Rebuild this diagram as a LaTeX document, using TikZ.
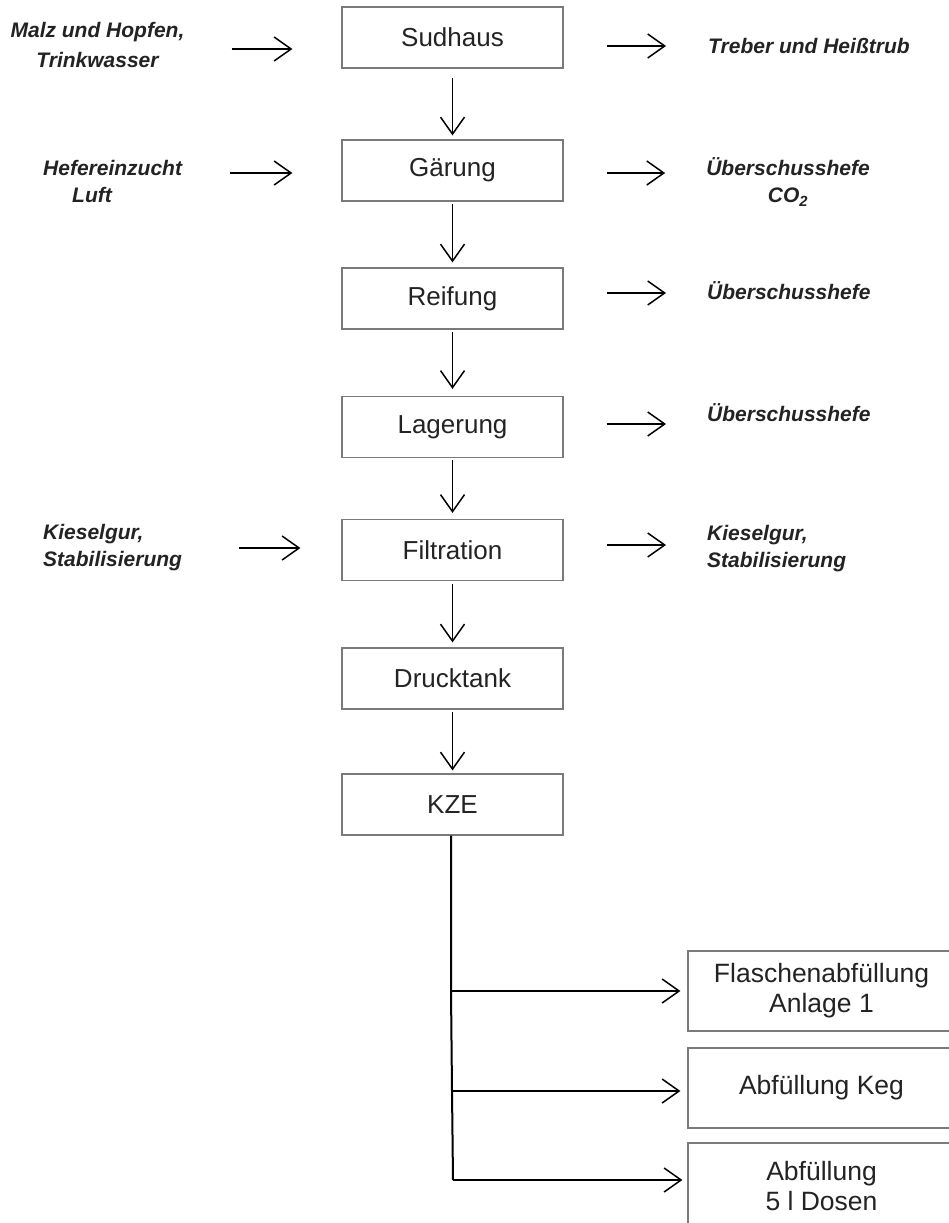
\documentclass[tikz,border=0pt]{standalone}
\usepackage{fontspec}
\setmainfont{Liberation Sans}
\usetikzlibrary{arrows.meta}
\definecolor{txt}{HTML}{232323}
\definecolor{boxline}{HTML}{7A7A7A}
\tikzset{
  procbox/.style={draw=boxline, line width=1.2pt, minimum width=221pt, minimum height=61pt, inner sep=0pt,
    text=txt, font=\fontsize{26}{30}\selectfont},
  fillbox/.style={draw=boxline, line width=1.2pt, minimum width=267pt, inner sep=0pt, align=center,
    text=txt, font=\fontsize{26.5}{30}\selectfont},
  lbl/.style={inner sep=0pt, text=txt, font=\fontsize{21}{27}\selectfont\bfseries\itshape},
  arr/.style={line width=1.5pt, -{Straight Barb[length=17pt,width=24pt,line width=1.5pt]}},
  branch/.style={line width=2pt}
}
\begin{document}
\begin{tikzpicture}[x=1pt,y=-1pt]
\useasboundingbox (0,0) rectangle (949,1223);
\fill[white] (0,0) rectangle (949,1223);
\clip (0,0) rectangle (949,1223);

% main column
\node[procbox] (sud) at (452.5,37.5) {Sudhaus};
\node[procbox] (gar) at (452.5,170.5) {Gärung};
\node[procbox] (rei) at (452.5,298.5) {Reifung};
\node[procbox] (lag) at (452.5,427) {Lagerung};
\node[procbox] (fil) at (452.5,550) {Filtration};
\node[procbox] (dru) at (452.5,678.5) {Drucktank};
\node[procbox] (kze) at (452.5,804.5) {KZE};

\draw[arr, shorten <=9pt, shorten >=4pt] (sud.south) -- (gar.north);
\draw[arr, shorten <=2pt, shorten >=5pt] (gar.south) -- (rei.north);
\draw[arr, shorten <=2pt, shorten >=7pt] (rei.south) -- (lag.north);
\draw[arr, shorten <=2pt, shorten >=6pt] (lag.south) -- (fil.north);
\draw[arr, shorten <=3pt, shorten >=5pt] (fil.south) -- (dru.north);
\draw[arr, shorten <=2pt, shorten >=3pt] (dru.south) -- (kze.north);

% left inputs
\node[lbl, align=center, font=\fontsize{21}{30}\selectfont\bfseries\itshape] (malz) at (97.5,45) {Malz und Hopfen,\\Trinkwasser};
\node[lbl, align=left, anchor=west] (hefe) at (43,181) {Hefereinzucht\\\hspace*{29pt}Luft};
\node[lbl, align=left, anchor=west] (kiesl) at (43,548) {Kieselgur,\\Stabilisierung};

\draw[arr, shorten <=47pt, shorten >=49pt] (malz.east |- 0,49) -- (sud.west |- 0,49);
\draw[arr, shorten <=48pt, shorten >=49pt] (hefe.east |- 0,173) -- (gar.west |- 0,173);
\draw[arr, shorten <=57pt, shorten >=41pt] (kiesl.east |- 0,548) -- (fil.west |- 0,548);

% right outputs
\node[lbl, anchor=west] (treb) at (708,46) {Treber und Heißtrub};
\node[lbl, align=center] (ueb1) at (788,182) {Überschusshefe\\CO\textsubscript{2}};
\node[lbl, anchor=west] (ueb2) at (707,291) {Überschusshefe};
\node[lbl, anchor=west] (ueb3) at (707,413) {Überschusshefe};
\node[lbl, align=left, anchor=west] (kiesr) at (707,549) {Kieselgur,\\Stabilisierung};

\draw[arr, shorten <=43pt, shorten >=42pt] (sud.east |- 0,46) -- (treb.west |- 0,46);
\draw[arr, shorten <=43pt, shorten >=41pt] (gar.east |- 0,173) -- (ueb1.west |- 0,173);
\draw[arr, shorten <=43pt, shorten >=41pt] (rei.east |- 0,293) -- (ueb2.west |- 0,293);
\draw[arr, shorten <=43pt, shorten >=41pt] (lag.east |- 0,424) -- (ueb3.west |- 0,424);
\draw[arr, shorten <=43pt, shorten >=41pt] (fil.east |- 0,545) -- (kiesr.west |- 0,545);

% filling lines
\node[fillbox, minimum height=80pt] (fla) at (821.5,991) {Flaschenabfüllung\\Anlage 1};
\node[fillbox, minimum height=80pt] (keg) at (821.5,1088) {Abfüllung Keg};
\node[fillbox, minimum height=86pt] (dos) at (821.5,1186) {Abfüllung\\5 l Dosen};

\coordinate (b1) at (451,991);
\coordinate (b2) at (452,1091);
\coordinate (b3) at (453,1180);
\draw[branch] (kze.south -| b1) -- (b1) -- (b2) -- (b3);
\draw[arr, line width=2pt, shorten >=7pt] (b1) -- (fla.west |- b1);
\draw[arr, line width=2pt, shorten >=7pt] (b2) -- (keg.west |- b2);
\draw[arr, line width=2pt, shorten >=5pt] (b3) -- (dos.west |- b3);
\end{tikzpicture}
\end{document}
